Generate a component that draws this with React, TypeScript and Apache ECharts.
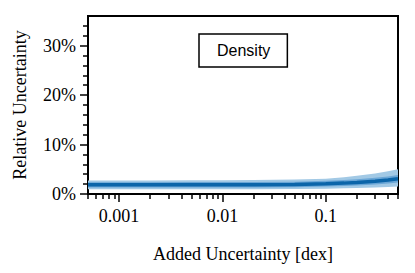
import React, { useEffect, useRef } from "react";
import * as echarts from "echarts";

// Added uncertainty [dex] (log-scaled x)
const xValues = [0.0005, 0.001, 0.002, 0.005, 0.01, 0.02, 0.05, 0.1, 0.15, 0.2, 0.3, 0.4, 0.5];
// Relative uncertainty [%]
const centerValues = [1.85, 1.85, 1.85, 1.86, 1.87, 1.89, 1.94, 2.08, 2.2, 2.35, 2.6, 2.85, 3.1];
const outerUpper = [2.75, 2.75, 2.75, 2.76, 2.78, 2.82, 2.92, 3.1, 3.38, 3.7, 4.15, 4.6, 5.0];
const outerLower = [0.95, 0.95, 0.95, 0.96, 0.97, 0.98, 1.0, 1.08, 1.14, 1.2, 1.32, 1.42, 1.5];
const innerUpper = [2.4, 2.4, 2.4, 2.41, 2.42, 2.45, 2.5, 2.66, 2.82, 2.98, 3.28, 3.56, 3.85];
const innerLower = [1.3, 1.3, 1.3, 1.31, 1.32, 1.33, 1.38, 1.5, 1.6, 1.72, 1.92, 2.12, 2.35];

// Tick values
const xMajorTicks = [0.001, 0.01, 0.1];
const xMinorTicks = [
  0.0005, 0.0006, 0.0007, 0.0008, 0.0009,
  0.002, 0.003, 0.004, 0.005, 0.006, 0.007, 0.008, 0.009,
  0.02, 0.03, 0.04, 0.05, 0.06, 0.07, 0.08, 0.09,
  0.2, 0.3, 0.4, 0.5,
];
const yMajorTicks = [0, 10, 20, 30];
const yMinorTicks = [2, 4, 6, 8, 12, 14, 16, 18, 22, 24, 26, 28, 32, 34];

const seriesName = "Density";
const xTitle = "Added Uncertainty [dex]";
const yTitle = "Relative Uncertainty";

const SERIF = "Liberation Serif";
const SANS = "Liberation Sans";
const FS = 18;

function bandSeries(name: string, lo: number[], hi: number[], color: string, z: number) {
  return {
    type: "custom",
    name,
    silent: true,
    clip: true,
    z,
    data: xValues.map((x, i) => [x, lo[i], hi[i]]),
    encode: { x: 0, y: [1, 2] },
    renderItem: (params: any, api: any) => {
      if (params.dataIndex !== 0) return null;
      const upper = xValues.map((x, i) => api.coord([x, hi[i]]));
      const lower = xValues.map((x, i) => api.coord([x, lo[i]])).reverse();
      return {
        type: "polygon",
        shape: { points: upper.concat(lower) },
        style: { fill: color, stroke: "none" },
      };
    },
  };
}

export default function App() {
  const ref = useRef<HTMLDivElement>(null);

  useEffect(() => {
    if (!ref.current) return;
    const chart = echarts.init(ref.current, undefined, { renderer: "svg" });

    const xMin = 0.0005;
    const xMax = 0.5;

    chart.setOption({
      animation: false,
      grid: {
        left: 88,
        top: 16,
        right: 17,
        bottom: 79,
        show: true,
        borderColor: "#000",
        borderWidth: 2,
        backgroundColor: "transparent",
      },
      legend: {
        data: [seriesName],
        left: 199,
        top: 34,
        icon: "none",
        itemWidth: 0,
        itemHeight: 14,
        selectedMode: false,
        borderColor: "#000",
        borderWidth: 1.5,
        padding: [8, 17, 9, 13],
        backgroundColor: "#fff",
        textStyle: { fontFamily: SANS, fontSize: 16, color: "#000", lineHeight: 16 },
      },
      xAxis: [
        {
          type: "log",
          logBase: 10,
          min: xMin,
          max: xMax,
          position: "bottom",
          name: xTitle,
          nameLocation: "middle",
          nameGap: 51,
          nameTextStyle: { fontFamily: SERIF, fontSize: FS, color: "#000" },
          axisLine: { show: true, lineStyle: { color: "#000", width: 2 } },
          axisTick: {
            show: true,
            length: 8,
            customValues: xMajorTicks,
            lineStyle: { color: "#000", width: 1.5 },
          },
          axisLabel: {
            customValues: xMajorTicks,
            fontFamily: SERIF,
            fontSize: FS,
            color: "#000",
            margin: 13,
            formatter: (v: number) => String(v),
          },
          splitLine: { show: false },
          minorTick: { show: false },
        },
        {
          type: "log",
          logBase: 10,
          min: xMin,
          max: xMax,
          position: "bottom",
          axisLine: { show: false },
          axisTick: {
            show: true,
            length: 5,
            customValues: xMinorTicks,
            lineStyle: { color: "#000", width: 1.5 },
          },
          axisLabel: { show: false },
          splitLine: { show: false },
        },
      ],
      yAxis: [
        {
          type: "value",
          min: 0,
          max: 36,
          position: "left",
          name: yTitle,
          nameLocation: "middle",
          nameGap: 59,
          nameRotate: 90,
          nameTextStyle: { fontFamily: SERIF, fontSize: FS, color: "#000" },
          axisLine: { show: true, lineStyle: { color: "#000", width: 2 } },
          axisTick: {
            show: true,
            length: 8,
            customValues: yMajorTicks,
            lineStyle: { color: "#000", width: 1.5 },
          },
          axisLabel: {
            customValues: yMajorTicks,
            fontFamily: SERIF,
            fontSize: FS,
            color: "#000",
            margin: 12,
            formatter: "{value}%",
          },
          splitLine: { show: false },
        },
        {
          type: "value",
          min: 0,
          max: 36,
          position: "left",
          axisLine: { show: false },
          axisTick: {
            show: true,
            length: 5,
            customValues: yMinorTicks,
            lineStyle: { color: "#000", width: 1.5 },
          },
          axisLabel: { show: false },
          splitLine: { show: false },
        },
      ],
      series: [
        bandSeries("Outer band", outerLower, outerUpper, "#a2c9e5", 1),
        bandSeries("Inner band", innerLower, innerUpper, "#6aa6d6", 2),
        {
          type: "line",
          name: seriesName,
          symbol: "none",
          smooth: false,
          data: xValues.map((x, i) => [x, centerValues[i]]),
          lineStyle: { color: "#0b65a9", width: 3.5 },
          itemStyle: { color: "#0b65a9" },
          z: 3,
        },
      ],
    });

    return () => chart.dispose();
  }, []);

  return <div ref={ref} style={{ width: 415, height: 273, margin: -8 }} />;
}
